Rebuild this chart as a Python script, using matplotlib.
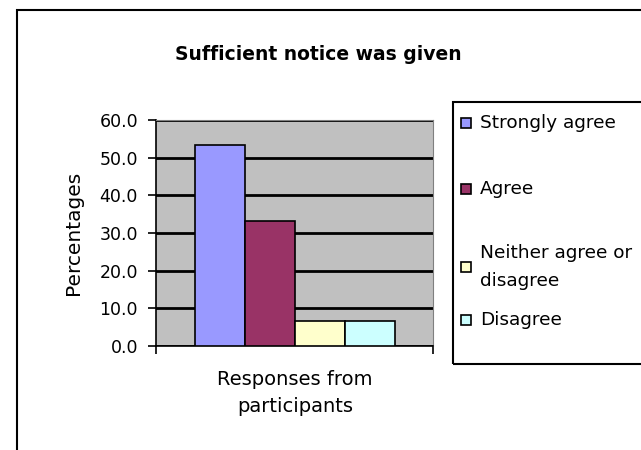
import matplotlib.pyplot as plt
from matplotlib.patches import Rectangle

plt.rcParams['font.family'] = ['DejaVu Sans']

# datos
categories = ['Strongly agree', 'Agree', 'Neither agree or\ndisagree', 'Disagree']
values = [53.3, 33.3, 6.7, 6.7]
colors = ['#9999FF', '#993366', '#FFFFCC', '#CCFFFF']
yticks = [0, 10, 20, 30, 40, 50, 60]

W, H = 641, 450
fig = plt.figure(figsize=(W / 100, H / 100), dpi=100)

# marco exterior del gráfico
fig.patches.append(Rectangle((17 / W, -0.1), 1.2, 1.1 - 10 / H, transform=fig.transFigure,
                             fill=False, edgecolor='black', linewidth=1.5))

ax = fig.add_axes([156 / W, 1 - 346 / H, 277 / W, 226 / H])
ax.set_facecolor('#C0C0C0')
x = range(len(values))
ax.bar(x, values, width=1.0, color=colors, edgecolor='black', linewidth=1.2, zorder=3)
ax.set_xlim(-1.27, 4.27)
ax.set_ylim(0, 60)
ax.set_yticks(yticks)
ax.set_yticklabels([f'{v:.1f}' for v in yticks], fontsize=12.5)
ax.yaxis.grid(True, color='black', linewidth=2)
ax.set_axisbelow(True)
ax.set_xticks([-1.27, 4.27])
ax.set_xticklabels(['', ''])
ax.tick_params(axis='x', direction='out', length=6, width=1.2, color='black')
ax.tick_params(axis='y', direction='out', length=6, width=1.2, color='black', pad=7)
for s in ['top', 'right']:
    ax.spines[s].set_color('#808080')
ax.spines['left'].set_linewidth(1.2)
ax.spines['bottom'].set_linewidth(1.2)

ax.set_ylabel('Percentages', fontsize=14.5, labelpad=12)
fig.text(295 / W, 1 - 393 / H, 'Responses from\nparticipants', fontsize=14,
         ha='center', va='center', linespacing=1.55)
fig.text(318 / W, 1 - 54 / H, 'Sufficient notice was given', fontsize=13.5,
         fontweight='bold', ha='center', va='center')

# leyenda dibujada a mano (como en Excel)
fig.patches.append(Rectangle((453 / W, 1 - 364 / H), 0.5, 262 / H, transform=fig.transFigure,
                             fill=False, edgecolor='black', linewidth=1.5))
legend_y = [123, 189, 267, 320]
for cat, col, ly in zip(categories, colors, legend_y):
    fig.patches.append(Rectangle((461 / W, 1 - (ly + 5) / H), 10 / W, 10 / H,
                                 transform=fig.transFigure, facecolor=col,
                                 edgecolor='black', linewidth=1.2))
    fig.text(480 / W, 1 - ly / H, cat, fontsize=13.3, ha='left', va='center', linespacing=1.7)

fig.savefig('out.png', dpi=100)
